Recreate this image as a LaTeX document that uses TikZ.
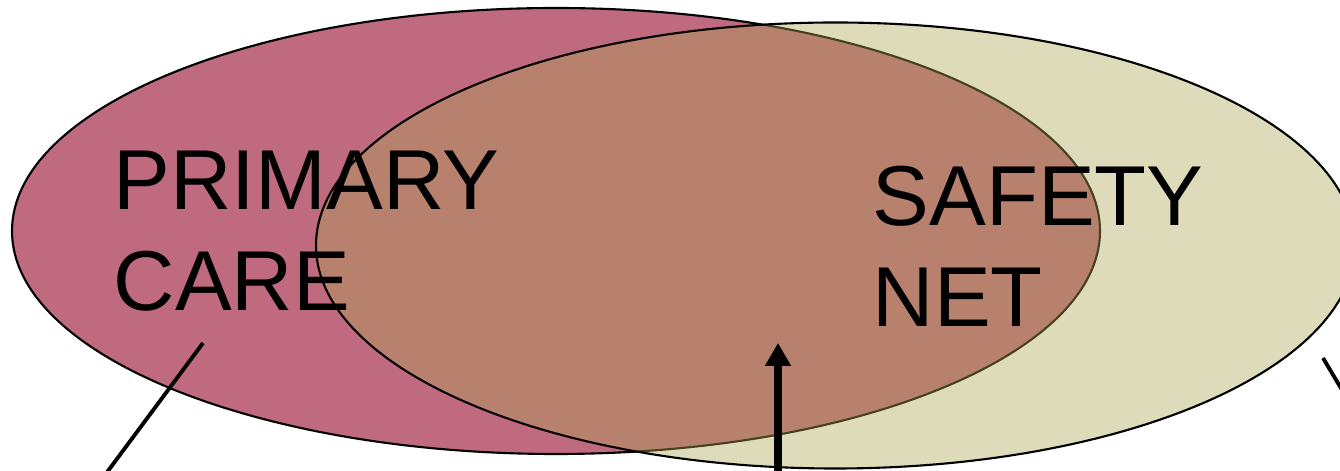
\documentclass[tikz,border=0pt]{standalone}
\usepackage{fontspec}
\setmainfont{Liberation Sans}
\usetikzlibrary{arrows.meta}
\definecolor{primaryPink}{RGB}{192,106,128}
\definecolor{safetyOlive}{RGB}{173,165,85}

\begin{document}
\begin{tikzpicture}[
  font=\fontsize{24.2}{28.9}\selectfont,
  area label/.style={anchor=north west, inner sep=0pt, align=left},
  pointer/.style={line width=1.1pt},
]
\useasboundingbox (0,0) rectangle (13.4,4.71);
\clip (0,0) rectangle (13.4,4.71);
\fill[white] (0,0) rectangle (13.4,4.71);

% Areas
\draw[fill=primaryPink, line width=0.6pt] (5.56,2.40) ellipse [x radius=5.44, y radius=2.23];
\draw[fill=safetyOlive, fill opacity=0.4, line width=0.6pt] (8.355,2.255) ellipse [x radius=5.195, y radius=2.23];

% Labels
\node[area label] (primary) at (1.13,3.21) {PRIMARY\\CARE};
\node[area label] (safety) at (8.72,3.06) {SAFETY\\NET};

% Pointers
\coordinate (primaryTip) at (2.03,1.28);
\coordinate (primaryEnd) at (1.05,-0.04);
\draw[pointer] (primaryTip) -- (primaryEnd);

\coordinate (overlapTip) at (7.78,1.28);
\coordinate (overlapEnd) at (7.78,-0.05);
\draw[line width=2.2pt, -{Triangle[width=7pt,length=6.5pt]}] (overlapEnd) -- (overlapTip);

\coordinate (safetyTip) at (13.23,1.13);
\coordinate (safetyEnd) at (13.45,0.76);
\draw[pointer] (safetyTip) -- (safetyEnd);
\end{tikzpicture}
\end{document}
